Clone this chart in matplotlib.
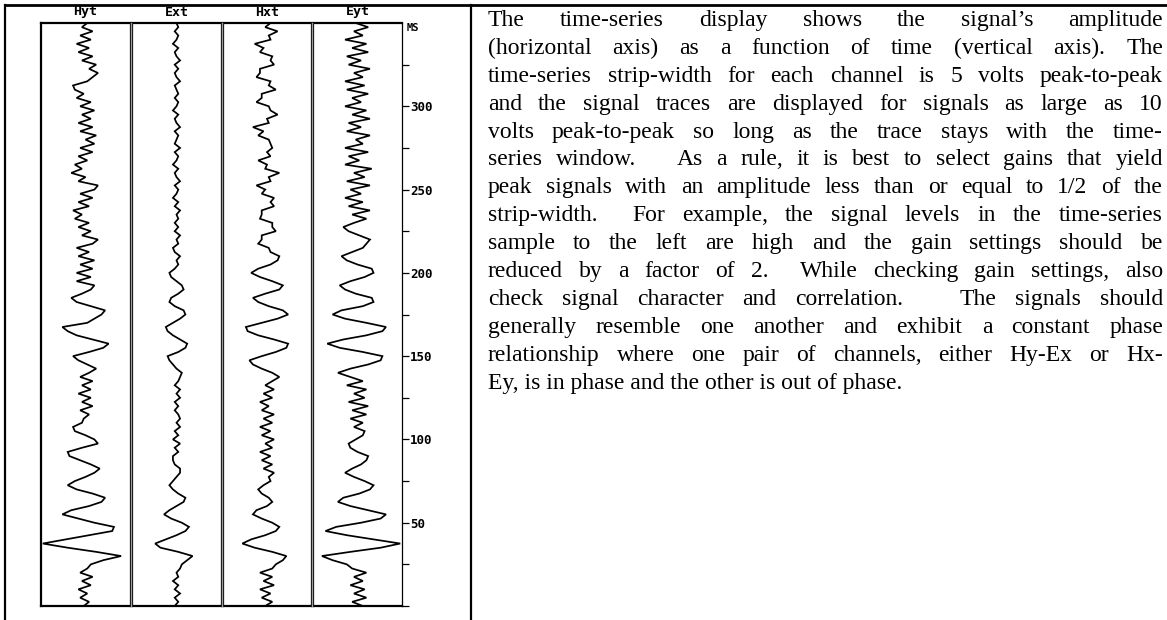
import matplotlib
matplotlib.use("Agg")
import matplotlib.pyplot as plt
from matplotlib.lines import Line2D
import numpy as np

# ---- data (amplitude in volts, one sample every 2.5 ms) ----
dt = 2.5
channels = ["Hyt", "Ext", "Hxt", "Eyt"]

hyt = [-0.1, 0.2, -0.3, 0.1, -0.4, 0.3, -0.2, 0.4, -0.3, 0.1,
       0.3, 1.0, 2.0, 0.6, -1.0, -2.4, -1.1, 0.2, 1.5, 1.6,
       0.5, -0.4, -1.3, -0.8, 0.2, 0.9, 1.1, 0.4, -0.5, -1.0,
       -0.6, 0.0, 0.5, 0.8, 0.3, -0.3, -0.9, -1.0, -0.2, 0.7,
       0.5, 0.0, -0.6, -0.7, -0.2, -0.1, 0.2, -0.3, 0.4, -0.2,
       0.3, -0.4, 0.3, -0.2, 0.4, -0.3, 0.2, 0.6, 0.1, -0.4,
       -0.7, 0.2, 1.0, 1.3, 0.4, -0.5, -1.0, -1.3, 0.1, 0.5,
       0.9, 1.1, 0.3, -0.5, -0.8, -0.2, 0.3, 0.5, -0.5, 0.3,
       -0.5, 0.4, -0.3, 0.5, -0.4, 0.2, -0.5, 0.4, 0.7, -0.2,
       0.3, -0.4, 0.2, -0.6, -0.2, -0.7, 0.2, -0.4, 0.4, -0.3,
       0.5, 0.7, -0.4, 0.0, -0.8, -0.2, -0.6, 0.1, -0.4, 0.4,
       -0.3, 0.5, 0.0, 0.6, -0.3, 0.4, -0.4, 0.3, -0.2, 0.5,
       -0.3, 0.3, -0.5, -0.1, -0.6, -0.7, 0.1, 0.4, 0.7, 0.2,
       0.6, -0.2, 0.4, -0.4, 0.2, -0.5, 0.3, -0.3, 0.4, -0.2, 0.1]

ext = [-0.1, 0.1, -0.1, 0.2, -0.1, 0.1, -0.2, 0.1, 0.0, 0.2,
       0.3, 0.6, 0.9, 0.1, -0.9, -1.2, -0.6, 0.0, 0.5, 0.7,
       0.3, -0.3, -0.7, -0.4, 0.0, 0.4, 0.5, 0.1, -0.2, -0.4,
       -0.2, 0.0, 0.2, 0.2, -0.1, -0.2, -0.2, 0.1, -0.1, 0.2,
       -0.2, 0.1, -0.1, 0.2, 0.0, 0.2, 0.1, -0.1, 0.1, -0.1,
       0.2, 0.0, 0.2, -0.1, 0.1, 0.2, 0.3, 0.0, -0.2, -0.4,
       -0.5, 0.1, 0.5, 0.6, 0.2, -0.2, -0.5, -0.6, -0.2, 0.2,
       0.5, 0.4, -0.1, -0.4, -0.3, 0.1, 0.4, 0.3, 0.0, -0.3,
       -0.4, -0.1, 0.1, 0.0, 0.2, -0.1, -0.2, 0.1, 0.0, 0.2,
       -0.1, 0.1, -0.1, 0.1, 0.0, 0.2, -0.1, 0.1, -0.2, 0.0,
       0.1, -0.1, 0.2, 0.0, -0.1, 0.1, -0.2, 0.0, 0.1, -0.1,
       0.2, -0.1, 0.0, 0.1, -0.1, 0.2, 0.0, -0.1, 0.1, -0.2,
       0.0, 0.1, -0.1, 0.1, 0.0, -0.1, 0.2, 0.0, -0.1, 0.1,
       -0.1, 0.2, 0.0, -0.1, 0.1, -0.2, 0.0, 0.1, -0.1, 0.1, 0.0]

hxt = [-0.1, 0.3, -0.3, 0.2, -0.4, 0.4, -0.2, 0.3, -0.4, 0.3,
       0.5, 0.9, 1.1, 0.3, -0.7, -1.4, -0.9, -0.1, 0.5, 0.7,
       0.3, -0.3, -0.8, -0.6, 0.0, 0.3, 0.1, -0.3, -0.5, -0.2,
       0.2, 0.1, 0.4, -0.2, 0.3, -0.3, 0.2, -0.4, 0.3, -0.1,
       0.4, -0.3, 0.2, -0.4, 0.3, -0.2, 0.4, -0.3, 0.1, -0.4,
       0.3, -0.2, 0.4, -0.1, 0.3, 0.7, 0.3, -0.3, -0.8, -1.0,
       -0.3, 0.5, 1.1, 1.2, 0.4, -0.5, -1.1, -1.2, -0.3, 0.6,
       1.2, 0.9, 0.1, -0.5, -0.8, -0.1, 0.7, 0.9, 0.3, -0.4,
       -0.9, -0.5, 0.2, 0.6, 0.7, 0.2, 0.1, -0.5, -0.3, -0.3,
       0.5, 0.3, 0.3, -0.4, -0.3, -0.3, 0.4, 0.2, 0.4, -0.3,
       -0.1, -0.6, 0.2, 0.1, 0.7, -0.1, 0.0, -0.5, 0.2, 0.0,
       0.3, 0.2, 0.1, -0.5, -0.2, -0.8, 0.1, 0.0, 0.6, 0.2,
       0.1, -0.6, -0.3, -0.3, 0.5, 0.1, 0.2, -0.6, -0.4, -0.4,
       0.4, 0.2, 0.3, -0.4, -0.2, -0.7, 0.2, 0.1, 0.6, -0.1, 0.2]

eyt = [0.3, -0.3, 0.5, -0.2, 0.4, -0.4, 0.3, -0.2, 0.5, -0.3,
       -0.6, -1.4, -2.0, -0.4, 1.3, 2.4, 0.9, -0.6, -1.8, -1.2,
       0.2, 1.3, 1.6, 0.6, -0.4, -1.1, -0.8, 0.1, 0.7, 0.9,
       0.4, -0.2, -0.7, -0.3, 0.2, 0.5, 0.6, 0.0, -0.4, -0.5,
       -0.1, 0.3, 0.4, -0.2, 0.3, -0.4, 0.5, -0.3, 0.6, -0.5,
       0.4, -0.2, 0.5, -0.6, 0.3, -0.4, -1.1, -0.4, 0.6, 1.3,
       1.4, 0.3, -1.0, -1.7, -0.8, 0.5, 1.4, 1.6, 0.5, -0.7,
       -1.4, -0.9, 0.3, 0.9, 0.8, -0.1, -0.7, -1.0, -0.4, 0.4,
       0.9, 0.8, 0.0, -0.6, -0.9, -0.3, 0.3, 0.5, 0.7, 0.1,
       -0.5, -0.8, -0.2, 0.5, -0.3, 0.7, -0.5, 0.3, -0.7, 0.2,
       -0.4, 0.7, -0.6, 0.4, -0.2, 0.8, -0.7, 0.1, -0.5, 0.6,
       -0.7, 0.3, -0.1, 0.7, -0.6, 0.2, -0.5, 0.7, -0.3, 0.5,
       -0.7, 0.2, -0.3, 0.6, -0.6, 0.4, -0.7, 0.3, -0.2, 0.7,
       -0.5, 0.2, -0.6, 0.6, -0.3, 0.5, -0.7, 0.3, -0.2, 0.6, -0.1]

ms_major = [0, 50, 100, 150, 200, 250, 300]
ms_labels = ["", "50", "100", "150", "200", "250", "300"]
ms_minor = [25, 75, 125, 175, 225, 275, 325]

paragraph = [
    "The time-series display shows the signal\u2019s amplitude",
    "(horizontal axis) as a function of time (vertical axis). The",
    "time-series strip-width for each channel is 5 volts peak-to-peak",
    "and the signal traces are displayed for signals as large as 10",
    "volts peak-to-peak so long as the trace stays with the time-",
    "series window.   As a rule, it is best to select gains that yield",
    "peak signals with an amplitude less than or equal to 1/2 of the",
    "strip-width.  For example, the signal levels in the time-series",
    "sample to the left are high and the gain settings should be",
    "reduced by a factor of 2.  While checking gain settings, also",
    "check signal character and correlation.   The signals should",
    "generally resemble one another and exhibit a constant phase",
    "relationship where one pair of channels, either Hy-Ex or Hx-",
    "Ey, is in phase and the other is out of phase.",
]

W, H = 1167, 620
fig = plt.figure(figsize=(W / 100, H / 100), dpi=100)

mono = dict(family="DejaVu Sans Mono", weight="bold")

# panel pixel edges
edges = [(41, 130), (132, 221), (223, 311), (313, 402)]
top, bottom = 23, 606

for k, (name, vals) in enumerate(zip(channels, [hyt, ext, hxt, eyt])):
    x0, x1 = edges[k]
    ax = fig.add_axes([x0 / W, 1 - bottom / H, (x1 - x0) / W, (bottom - top) / H])
    t = np.arange(len(vals)) * dt
    ax.plot(vals, t, color="black", lw=1.25, solid_joinstyle="miter")
    ax.set_xlim(-2.5, 2.5)
    ax.set_ylim(0, 350)
    ax.set_xticks([])
    for side, sp in ax.spines.items():
        sp.set_linewidth(0.9)
    ax.spines["top"].set_linewidth(1.6)
    ax.spines["bottom"].set_linewidth(1.6)
    if k == 0:
        ax.spines["left"].set_linewidth(1.6)
    if k < 3:
        ax.set_yticks([])
    else:
        ax.yaxis.tick_right()
        ax.set_yticks(ms_major)
        ax.set_yticklabels(ms_labels)
        ax.set_yticks(ms_minor, minor=True)
        ax.tick_params(axis="y", which="both", direction="out", length=5,
                       width=0.9, pad=1, labelsize=9)
        for lab in ax.get_yticklabels():
            lab.set_fontfamily("DejaVu Sans Mono")
            lab.set_fontweight("bold")
    fig.text((x0 + x1) / 2 / W, 1 - 12 / H, name, ha="center", va="center",
             fontsize=9.5, **mono)
    if k > 0:
        gx = (edges[k - 1][1] + x0) / 2 / W
        fig.add_artist(Line2D([gx, gx], [1 - bottom / H, 1 - top / H],
                              color="#9a9a9a", lw=1.0))

fig.text(407 / W, 1 - 28 / H, "MS", ha="left", va="center", fontsize=7.5, **mono)

# table borders
fig.add_artist(Line2D([5 / W, 1], [1 - 5 / H, 1 - 5 / H], color="black", lw=2.0))
fig.add_artist(Line2D([5 / W, 5 / W], [0, 1 - 5 / H], color="black", lw=1.6))
fig.add_artist(Line2D([471 / W, 471 / W], [0, 1 - 5 / H], color="black", lw=1.6))

# justified paragraph
fig.canvas.draw()
renderer = fig.canvas.get_renderer()
left_px, right_px = 488, 1163
base0, lead = 26, 27.9
serif = dict(family="Liberation Serif", fontsize=17)

for n, line in enumerate(paragraph):
    yb = 1 - (base0 + lead * n) / H
    if n == len(paragraph) - 1:
        fig.text(left_px / W, yb, line, ha="left", va="baseline", **serif)
        continue
    tokens = line.split(" ")
    words = [w for w in tokens if w]
    arts = [fig.text(0, yb, w, ha="left", va="baseline", **serif) for w in words]
    widths = [a.get_window_extent(renderer).width for a in arts]
    n_spaces = line.count(" ")
    gap = (right_px - left_px - sum(widths)) / n_spaces
    x = left_px
    wi = 0
    pending = 0
    for tok in tokens:
        if tok == "":
            pending += 1
            continue
        x += pending * gap
        arts[wi].set_x(x / W)
        x += widths[wi]
        wi += 1
        pending = 1

fig.savefig("out.png", dpi=100)
